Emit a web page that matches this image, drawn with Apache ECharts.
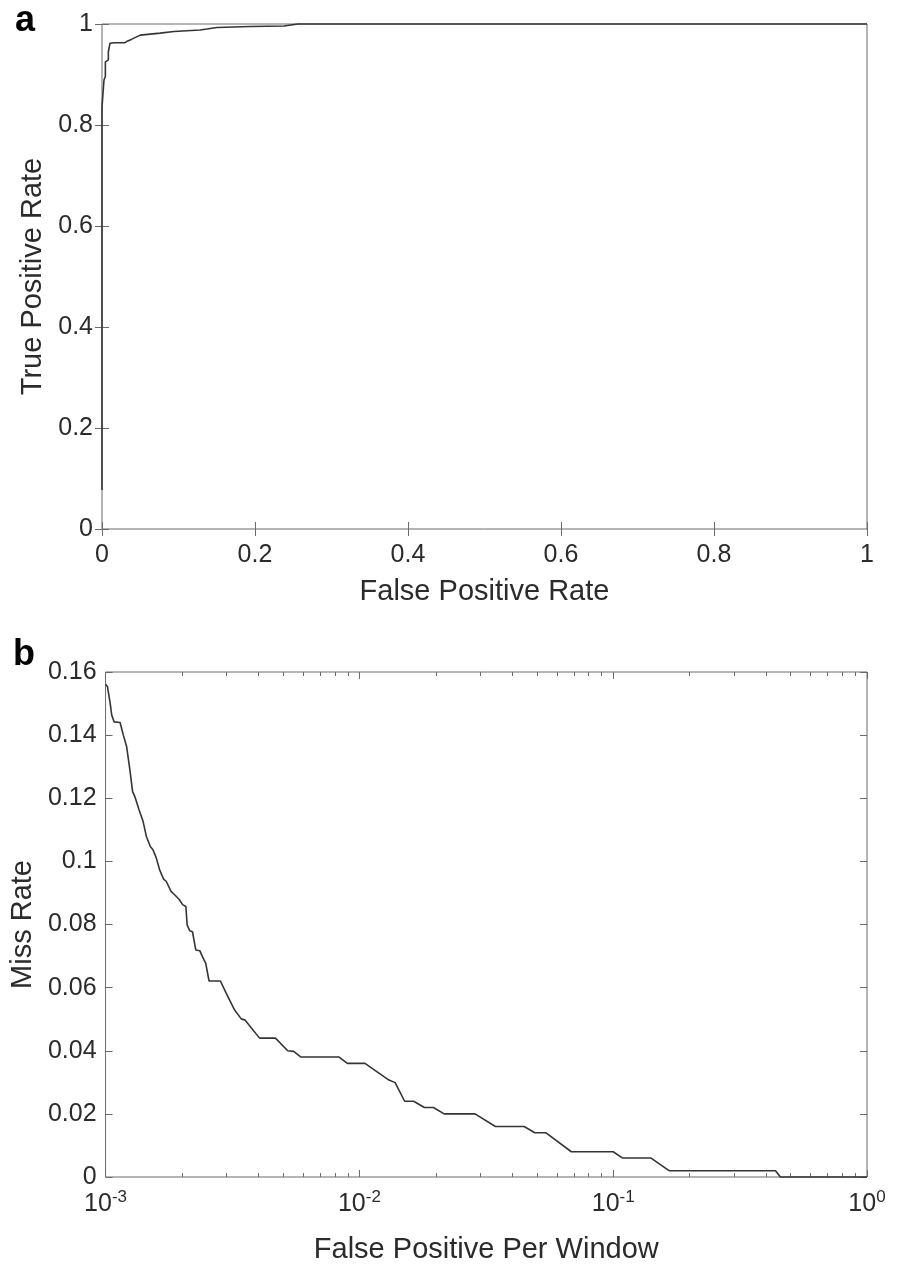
<!DOCTYPE html>
<html>
<head>
<meta charset="utf-8">
<script src="https://cdn.jsdelivr.net/npm/echarts@6/dist/echarts.min.js"></script>
<style>
html,body{margin:0;padding:0;background:#fff;}
#main{width:898px;height:1269px;}
</style>
</head>
<body>
<div id="main"></div>
<script>
// ---- Panel a: ROC curve ----
const rocFpr = [0, 0, 0.0026, 0.0026, 0.0044, 0.0044, 0.0083, 0.0083, 0.0105, 0.0105, 0.0157, 0.030, 0.033, 0.039, 0.050, 0.063, 0.076, 0.094, 0.128, 0.137, 0.150, 0.194, 0.238, 0.247, 0.256, 1];
const rocTpr = [0.077, 0.836, 0.836, 0.889, 0.896, 0.925, 0.929, 0.945, 0.948, 0.962, 0.963, 0.963, 0.966, 0.970, 0.978, 0.980, 0.982, 0.985, 0.988, 0.990, 0.993, 0.995, 0.996, 0.998, 1.0, 1.0];
const rocTicks = [0, 0.2, 0.4, 0.6, 0.8, 1];

// ---- Panel b: miss rate vs false positives per window ----
const fppw = [0.001, 0.001018, 0.001043, 0.001058, 0.001081, 0.001141, 0.001175, 0.001211, 0.001247, 0.001278, 0.001305, 0.001324, 0.001356, 0.001406, 0.001448, 0.001501, 0.001537, 0.001584, 0.001632, 0.001692, 0.001733, 0.001812, 0.001884, 0.001952, 0.002012, 0.002072, 0.002097, 0.002148, 0.002200, 0.002268, 0.002351, 0.002408, 0.002482, 0.002557, 0.002834, 0.00299, 0.003225, 0.003424, 0.003549, 0.004044, 0.00467, 0.00522, 0.00551, 0.00589, 0.00832, 0.00897, 0.01052, 0.01308, 0.01383, 0.01508, 0.01637, 0.01804, 0.01958, 0.02158, 0.02856, 0.03434, 0.04457, 0.04913, 0.0544, 0.0684, 0.1, 0.109, 0.141, 0.166, 0.436, 0.456, 1];
const missRate = [0.1561, 0.1553, 0.150, 0.1463, 0.1442, 0.144, 0.140, 0.1363, 0.129, 0.1221, 0.1205, 0.120, 0.1163, 0.1126, 0.1079, 0.1047, 0.1037, 0.1011, 0.0974, 0.0944, 0.0937, 0.0905, 0.0892, 0.0879, 0.0863, 0.0857, 0.0798, 0.078, 0.0777, 0.0719, 0.0717, 0.0698, 0.0677, 0.0621, 0.0621, 0.0582, 0.0529, 0.0501, 0.0497, 0.044, 0.044, 0.040, 0.0398, 0.038, 0.038, 0.036, 0.036, 0.0307, 0.0299, 0.024, 0.024, 0.022, 0.022, 0.020, 0.020, 0.016, 0.016, 0.014, 0.014, 0.008, 0.008, 0.006, 0.006, 0.002, 0.002, 0, 0];
const missTicks = [0, 0.02, 0.04, 0.06, 0.08, 0.1, 0.12, 0.14, 0.16];
const logMajor = [0.001, 0.01, 0.1, 1];
const logMinor = [0.002, 0.003, 0.004, 0.005, 0.006, 0.007, 0.008, 0.009, 0.02, 0.03, 0.04, 0.05, 0.06, 0.07, 0.08, 0.09, 0.2, 0.3, 0.4, 0.5, 0.6, 0.7, 0.8, 0.9];

const FONT = 'Liberation Sans';
const TXT = '#2b2b2b';
const AX = '#6b6b6b';
const TICK_FS = 25;
const NAME_FS = 29;

function fmtNum(v){ return String(+(+v).toFixed(2)); }

const chart = echarts.init(document.getElementById('main'), null, {renderer:'canvas'});

function linAxis(gridIndex, position, min, max, interval, showLabel, name, nameGap){
  return {
    type:'value', gridIndex, position, min, max, interval,
    axisLine:{show:false},
    axisTick:{show:true, inside:true, length:7, lineStyle:{color:AX, width:1}},
    splitLine:{show:false},
    axisLabel:{show:showLabel, margin: position==='bottom'?14:9, fontSize:TICK_FS, color:TXT, fontFamily:FONT, formatter:fmtNum},
    name: name || '', nameLocation:'middle', nameGap: nameGap || 0,
    nameTextStyle:{fontSize:NAME_FS, color:TXT, fontFamily:FONT}
  };
}
function logAxis(position, values, len, showLabel, name){
  return {
    type:'log', logBase:10, gridIndex:1, position, min:0.001, max:1,
    axisLine:{show:false},
    axisTick:{show:true, inside:true, length:len, customValues:values, lineStyle:{color:AX, width:1}},
    minorTick:{show:false},
    splitLine:{show:false},
    axisLabel:{show:showLabel, customValues:values, margin:12, color:TXT, fontFamily:FONT,
      formatter:function(v){ return '{b|10}{s|' + Math.round(Math.log10(v)) + '}'; },
      rich:{ b:{fontSize:TICK_FS, fontFamily:FONT, color:TXT}, s:{fontSize:17, fontFamily:FONT, color:TXT, padding:[0,0,14,0]} }
    },
    name: name || '', nameLocation:'middle', nameGap:58,
    nameTextStyle:{fontSize:NAME_FS, color:TXT, fontFamily:FONT}
  };
}

const option = {
  animation:false,
  backgroundColor:'#ffffff',
  title:[
    {text:'a', left:10, top:-2, textStyle:{fontSize:36, fontWeight:'bold', color:'#000', fontFamily:FONT}},
    {text:'b', left:8, top:632, textStyle:{fontSize:36, fontWeight:'bold', color:'#000', fontFamily:FONT}}
  ],
  grid:[
    {left:102, top:24, width:765, height:505, show:true, borderColor:AX, borderWidth:1, backgroundColor:'transparent'},
    {left:102, top:672, width:765, height:505, show:true, borderColor:AX, borderWidth:1, backgroundColor:'transparent'}
  ],
  xAxis:[
    linAxis(0, 'bottom', 0, 1, 0.2, true, 'False Positive Rate', 48),
    linAxis(0, 'top', 0, 1, 0.2, false),
    logAxis('bottom', logMajor, 7, true, 'False Positive Per Window'),
    logAxis('bottom', logMinor, 4, false),
    logAxis('top', logMajor, 7, false),
    logAxis('top', logMinor, 4, false)
  ],
  yAxis:[
    linAxis(0, 'left', 0, 1, 0.2, true, 'True Positive Rate', 46),
    linAxis(0, 'right', 0, 1, 0.2, false),
    linAxis(1, 'left', 0, 0.16, 0.02, true, 'Miss Rate', 58),
    linAxis(1, 'right', 0, 0.16, 0.02, false)
  ],
  series:[
    {type:'line', xAxisIndex:0, yAxisIndex:0, symbol:'none', clip:false,
     lineStyle:{color:'#353535', width:1.6},
     data: rocFpr.map((x,i)=>[x, rocTpr[i]])},
    {type:'line', xAxisIndex:2, yAxisIndex:2, symbol:'none', clip:false,
     lineStyle:{color:'#353535', width:1.6},
     data: fppw.map((x,i)=>[x, missRate[i]])}
  ]
};
chart.setOption(option);
</script>
</body>
</html>
